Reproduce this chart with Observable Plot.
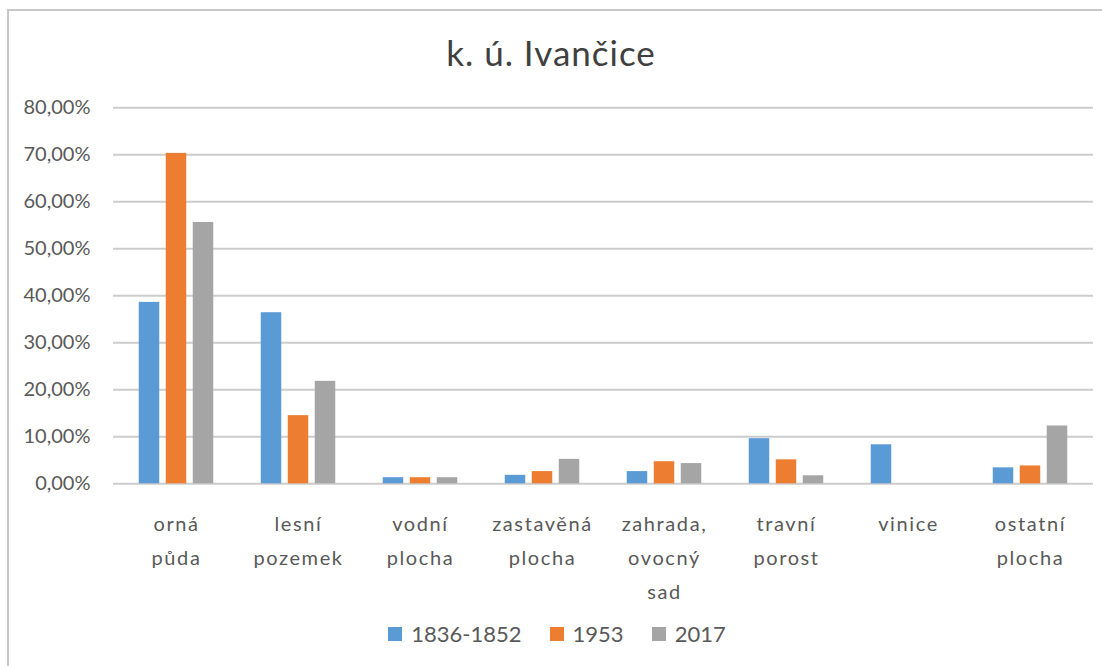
<!DOCTYPE html>
<html>
<head>
<meta charset="utf-8">
<script src="https://cdn.jsdelivr.net/npm/d3@7"></script>
<script src="https://cdn.jsdelivr.net/npm/@observablehq/plot@0.6"></script>
<style>
  html, body { margin: 0; padding: 0; background: #fff; }
  #wrap { position: relative; width: 1102px; height: 666px; overflow: hidden; font-family: Lato, sans-serif; }
  #border { position: absolute; left: 7px; top: 9px; width: 1200px; height: 800px; border-left: 2px solid #c8c8c8; border-top: 2px solid #c8c8c8; }
  #title { position: absolute; left: 0; width: 1102px; top: 30px; text-align: center; font-size: 35px; letter-spacing: 1px; color: #404040; line-height: 45px; }
  #chart { position: absolute; left: 0; top: 90px; }
  #chart g[aria-label="x-axis tick label"] text { letter-spacing: 1.6px; }
  #legend { position: absolute; left: 0; top: 620px; width: 1102px; display: flex; justify-content: center; align-items: center; font-size: 22px; color: #595959; padding-left: 12px; box-sizing: border-box; }
  .item { display: flex; align-items: center; margin: 0 14px; }
  .sw { width: 14px; height: 14px; margin-right: 9px; }
</style>
</head>
<body>
<div id="wrap">
  <div id="border"></div>
  <div id="title">k. ú. Ivančice</div>
  <div id="chart"></div>
  <div id="legend"></div>
</div>
<script>
const categories = ["orná půda", "lesní pozemek", "vodní plocha", "zastavěná plocha", "zahrada, ovocný sad", "travní porost", "vinice", "ostatní plocha"];
const series = ["1836-1852", "1953", "2017"];
const values1836 = [38.6, 36.4, 1.3, 1.8, 2.6, 9.6, 8.3, 3.4];
const values1953 = [70.3, 14.5, 1.3, 2.6, 4.7, 5.1, 0, 3.8];
const values2017 = [55.6, 21.8, 1.3, 5.2, 4.3, 1.7, 0, 12.3];
const yTicks = [0, 10, 20, 30, 40, 50, 60, 70, 80];
const colors = ["#5b9bd5", "#ed7d31", "#a5a5a5"];

const seriesValues = [values1836, values1953, values2017];
const tables = seriesValues.map((vals, si) => categories.map((c, i) => ({category: c, series: series[si], value: vals[i]})));
const offsets = [-27, 0, 27];

const fmt = d => d.toFixed(2).replace(".", ",") + "%";

const plot = Plot.plot({
  width: 1102,
  height: 520,
  marginLeft: 113,
  marginRight: 9,
  marginTop: 17.3,
  marginBottom: 126.7,
  style: {fontFamily: "Lato, sans-serif", fontSize: "20px", color: "#595959", background: "transparent"},
  x: {domain: categories, type: "band", padding: 0},
  y: {domain: [0, 80]},
  marks: [
    Plot.ruleY(yTicks, {stroke: "#cccccc", strokeWidth: 2}),
    ...tables.map((t, si) => Plot.barY(t, {
      x: "category", y: "value", fill: colors[si], dx: offsets[si],
      insetLeft: 50.75, insetRight: 50.75
    })),
    Plot.axisY(yTicks, {tickFormat: fmt, tickSize: 0, tickPadding: 23, fontSize: 20, fill: "#595959", label: null}),
    Plot.axisX({tickSize: 0, tickPadding: 23, fontSize: 20, fill: "#595959", lineHeight: 1.7, label: null,
      tickFormat: d => d.split(" ").join("\n")})
  ]
});
document.getElementById("chart").appendChild(plot);

const legend = document.getElementById("legend");
series.forEach((s, i) => {
  const item = document.createElement("div");
  item.className = "item";
  const sw = document.createElement("div");
  sw.className = "sw";
  sw.style.background = colors[i];
  const lab = document.createElement("span");
  lab.textContent = s;
  item.appendChild(sw);
  item.appendChild(lab);
  legend.appendChild(item);
});
</script>
</body>
</html>
